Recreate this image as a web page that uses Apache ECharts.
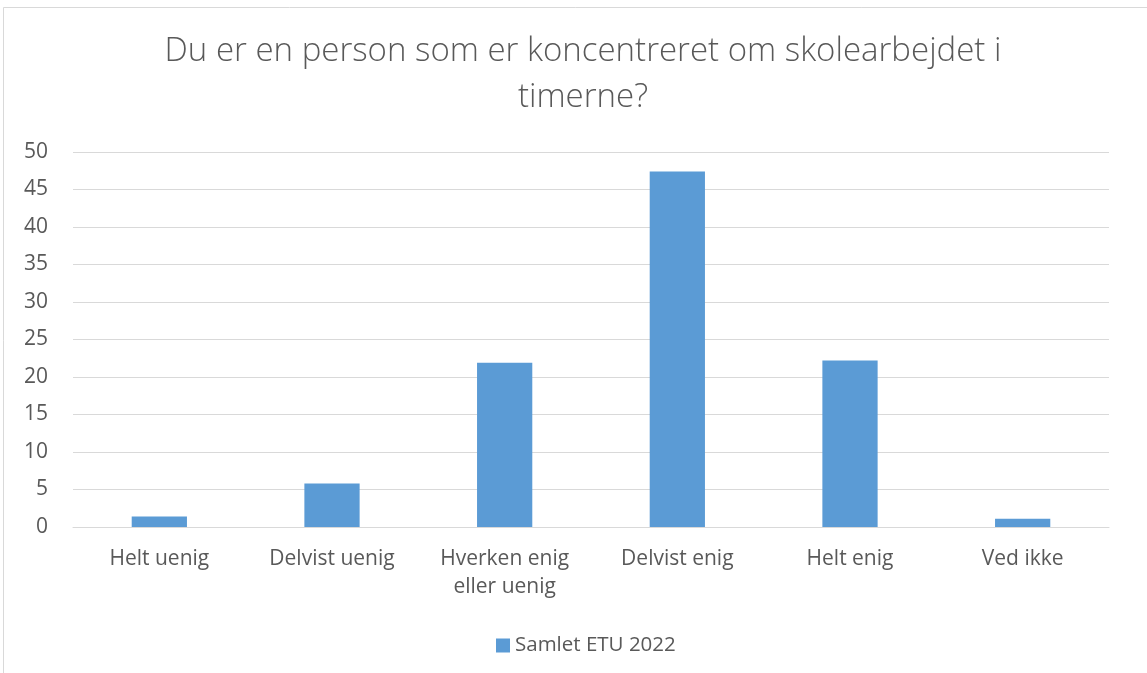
<!DOCTYPE html>
<html>
<head>
<meta charset="utf-8">
<script src="https://cdn.jsdelivr.net/npm/echarts@6/dist/echarts.min.js"></script>
<style>
html,body{margin:0;padding:0;background:#fff;}
#chart{width:1147px;height:673px;}
</style>
</head>
<body>
<div id="chart"></div>
<script>
const titleLines = ['Du er en person som er koncentreret om skolearbejdet i', 'timerne?'];
const categories = ['Helt uenig', 'Delvist uenig', 'Hverken enig\neller uenig', 'Delvist enig', 'Helt enig', 'Ved ikke'];
const seriesName = 'Samlet ETU 2022';
const values = [1.4, 5.8, 21.9, 47.4, 22.2, 1.1];
const yTicks = { min: 0, max: 50, interval: 5 };

const FONT = '"Open Sans", "Noto Sans", sans-serif';
const chart = echarts.init(document.getElementById('chart'), null, { renderer: 'canvas' });
const titleGraphics = titleLines.map((t, i) => ({
  type: 'text',
  x: 583,
  y: 52 + i * 46,
  silent: true,
  style: {
    text: t,
    align: 'center',
    verticalAlign: 'middle',
    fontFamily: FONT,
    fontSize: 33,
    fontWeight: 300,
    fill: '#595959'
  }
}));
chart.setOption({
  backgroundColor: '#ffffff',
  animation: false,
  graphic: [{
    type: 'rect',
    shape: { x: 3.5, y: 7.5, width: 1200, height: 700 },
    style: { fill: 'none', stroke: '#d9d9d9', lineWidth: 1 },
    silent: true
  }].concat(titleGraphics),
  legend: {
    data: [seriesName],
    left: 491,
    top: 630,
    itemWidth: 14,
    itemHeight: 14,
    icon: 'rect',
    textStyle: { fontFamily: FONT, fontSize: 20.5, color: '#595959' }
  },
  grid: { left: 73, right: 38, top: 152, bottom: 146, containLabel: false },
  xAxis: {
    type: 'category',
    data: categories,
    axisLine: { lineStyle: { color: '#d9d9d9', width: 1 } },
    axisTick: { show: false },
    axisLabel: {
      interval: 0,
      margin: 18,
      fontFamily: FONT,
      fontSize: 21,
      color: '#595959',
      lineHeight: 28
    }
  },
  yAxis: {
    type: 'value',
    min: yTicks.min,
    max: yTicks.max,
    interval: yTicks.interval,
    axisLine: { show: false },
    axisTick: { show: false },
    axisLabel: { margin: 25, fontFamily: FONT, fontSize: 21, color: '#595959' },
    splitLine: { lineStyle: { color: '#d9d9d9', width: 1 } }
  },
  series: [{
    name: seriesName,
    type: 'bar',
    data: values,
    barWidth: '32%',
    itemStyle: { color: '#5b9bd5' }
  }]
});
</script>
</body>
</html>
